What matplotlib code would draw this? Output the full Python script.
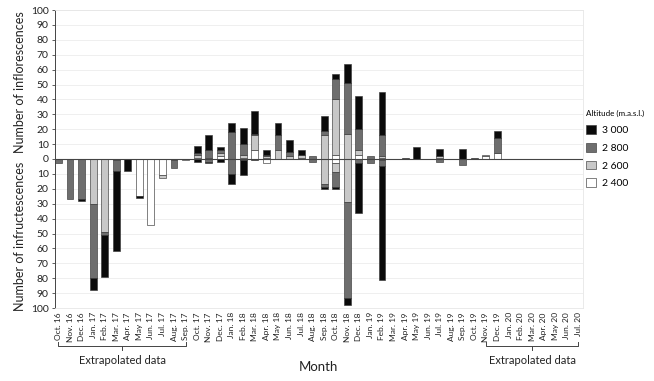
import matplotlib
matplotlib.use("Agg")
import matplotlib.pyplot as plt
import matplotlib.transforms as mtransforms
import numpy as np

months = ["Oct. 16", "Nov. 16", "Dec. 16", "Jan. 17", "Feb. 17", "Mar. 17", "Apr. 17", "May 17",
          "Jun. 17", "Jul. 17", "Aug. 17", "Sep. 17", "Oct. 17", "Nov. 17", "Dec. 17", "Jan. 18",
          "Feb. 18", "Mar. 18", "Apr. 18", "May 18", "Jun. 18", "Jul. 18", "Aug. 18", "Sep. 18",
          "Oct. 18", "Nov. 18", "Dec. 18", "Jan. 19", "Feb. 19", "Mar. 19", "Apr. 19", "May 19",
          "Jun. 19", "Jul. 19", "Aug. 19", "Sep. 19", "Oct. 19", "Nov. 19", "Dec. 19", "Jan. 20",
          "Feb. 20", "Mar. 20", "Apr. 20", "May 20", "Jun. 20", "Jul. 20"]

altitudes = ["3 000", "2 800", "2 600", "2 400"]

# Inflorescences (positive side), per altitude, per month
infl_2400 = [0,0,0,0,0,0,0,0,0,0,0,0, 1,0,2,0,1,6,1,0,0,1,0,0, 3,0,3,0,1,0,0,0,0,1,0,0, 0,2,4,0,0,0,0,0,0,0]
infl_2600 = [0,0,0,0,0,0,0,0,0,0,0,0, 2,1,2,0,2,10,1,6,2,2,0,16, 37,17,3,0,1,0,0,0,0,1,0,0, 0,1,0,0,0,0,0,0,0,0]
infl_2800 = [0,0,0,0,0,0,0,0,0,0,0,0, 1,5,2,18,7,1,1,10,3,0,2,3, 14,34,14,2,14,0,0,0,0,0,0,0, 0,0,10,0,0,0,0,0,0,0]
infl_3000 = [0,0,0,0,0,0,0,0,0,0,0,0, 5,10,2,6,11,15,3,8,8,3,0,10, 3,13,22,0,29,0,1,8,0,5,0,7, 1,0,5,0,0,0,0,0,0,0]

# Infructescences (negative side), per altitude, per month
infr_2400 = [0,0,0,0,0,0,0,25,44,11,0,0, 0,0,0,0,0,0,3,0,0,0,0,0, 3,0,0,0,0,0,0,0,0,0,0,0, 0,0,0,0,0,0,0,0,0,0]
infr_2600 = [0,0,0,30,49,1,0,0,0,2,1,1, 0,0,0,0,1,0,0,0,0,0,0,17, 6,29,0,0,1,0,0,0,0,0,0,0, 0,0,0,0,0,0,0,0,0,0]
infr_2800 = [3,27,27,50,2,7,0,0,0,0,5,0, 0,2,0,10,0,0,0,0,0,0,2,2, 10,64,3,3,4,0,0,0,0,2,0,4, 0,0,0,0,0,0,0,0,0,0]
infr_3000 = [0,0,1,8,28,54,8,1,0,0,0,0, 2,1,2,7,10,1,0,0,0,0,0,1, 1,5,33,0,76,0,0,0,0,0,0,0, 0,0,0,0,0,0,0,0,0,0]

ytick_vals = [-100, -90, -80, -70, -60, -50, -40, -30, -20, -10, 0, 10, 20, 30, 40, 50, 60, 70, 80, 90, 100]

colors = {"2 400": "#ffffff", "2 600": "#c8c8c8", "2 800": "#6e6e6e", "3 000": "#0a0a0a"}
font = ["Lato", "DejaVu Sans"]
plt.rcParams["font.family"] = font

fig = plt.figure(figsize=(6.54, 3.81), dpi=100)
W, H = 654, 381
ax_l, ax_r, ax_t, ax_b = 55, 583, 10, 308
ax = fig.add_axes([ax_l / W, 1 - ax_b / H, (ax_r - ax_l) / W, (ax_b - ax_t) / H])

x = np.arange(len(months))
bw = 0.6
ec = "#3a3a3a"
lw = 0.45

pos_series = [("2 400", infl_2400), ("2 600", infl_2600), ("2 800", infl_2800), ("3 000", infl_3000)]
neg_series = [("2 400", infr_2400), ("2 600", infr_2600), ("2 800", infr_2800), ("3 000", infr_3000)]

handles = {}
bottom = np.zeros(len(months))
for name, vals in pos_series:
    v = np.array(vals, dtype=float)
    mask = v > 0
    b = ax.bar(x[mask], v[mask], bw, bottom=bottom[mask], color=colors[name], edgecolor=ec, linewidth=lw, zorder=3)
    handles[name] = b
    bottom += v
bottom = np.zeros(len(months))
for name, vals in neg_series:
    v = -np.array(vals, dtype=float)
    mask = v < 0
    ax.bar(x[mask], v[mask], bw, bottom=bottom[mask], color=colors[name], edgecolor=ec, linewidth=lw, zorder=3)
    bottom += v

ax.set_xlim(-0.3, len(months) - 0.6)
ax.set_ylim(-100, 100)
for yv in ytick_vals:
    if yv != 0:
        ax.axhline(yv, color="#ececec", linewidth=0.6, zorder=0)
ax.axhline(0, color="#444444", linewidth=0.8, zorder=4)

ax.set_yticks(ytick_vals)
ax.set_yticklabels([str(abs(v)) for v in ytick_vals], fontsize=7.5, color="#222222")
ax.set_xticks(x)
ax.set_xticklabels(months, rotation=90, fontsize=6, color="#222222", va="top")
ax.tick_params(axis="x", length=0, pad=3)
ax.tick_params(axis="y", length=2.5, width=0.6, color="#444444", pad=2)

for s in ["top", "right", "bottom"]:
    ax.spines[s].set_color("#e6e6e6")
    ax.spines[s].set_linewidth(0.6)
ax.spines["left"].set_color("#444444")
ax.spines["left"].set_linewidth(0.7)

# y labels
fig.text(20 / W, 1 - 82 / H, "Number of inflorescences", rotation=90, ha="center", va="center", fontsize=9, color="#222222")
fig.text(20 / W, 1 - 236 / H, "Number of infructescences", rotation=90, ha="center", va="center", fontsize=9, color="#222222")

# brackets for extrapolated data
trans = mtransforms.blended_transform_factory(ax.transData, ax.transAxes)
def yfrac(py):
    return (ax_b - py) / (ax_b - ax_t)

def bracket(i0, i1):
    mid = (i0 + i1) / 2
    ax.plot([i0, i0, i1, i1], [yfrac(342), yfrac(346), yfrac(346), yfrac(342)], color="#444444",
            linewidth=0.7, transform=trans, clip_on=False)
    ax.plot([mid, mid], [yfrac(346), yfrac(350)], color="#444444", linewidth=0.7, transform=trans, clip_on=False)
    ax.text(mid, yfrac(361), "Extrapolated data", transform=trans, ha="center", va="center", fontsize=8, color="#222222")

bracket(months.index("Oct. 16"), months.index("Sep. 17"))
bracket(months.index("Nov. 19"), months.index("Jul. 20"))

fig.text(318 / W, 1 - 367 / H, "Month", ha="center", va="center", fontsize=9.5, color="#222222")

# legend
leg_handles = [handles[a] for a in altitudes]
leg = ax.legend(leg_handles, altitudes, title="Altitude (m.a.s.l.)", loc="upper left",
                bbox_to_anchor=(582 / W, 1 - 106 / H), bbox_transform=fig.transFigure,
                frameon=False, fontsize=7.5, title_fontsize=5.8, handlelength=0.9, handleheight=0.9,
                handletextpad=0.6, labelspacing=0.75, borderpad=0.2, borderaxespad=0.2)
leg._legend_box.align = "left"

fig.savefig("out.png", dpi=100)
